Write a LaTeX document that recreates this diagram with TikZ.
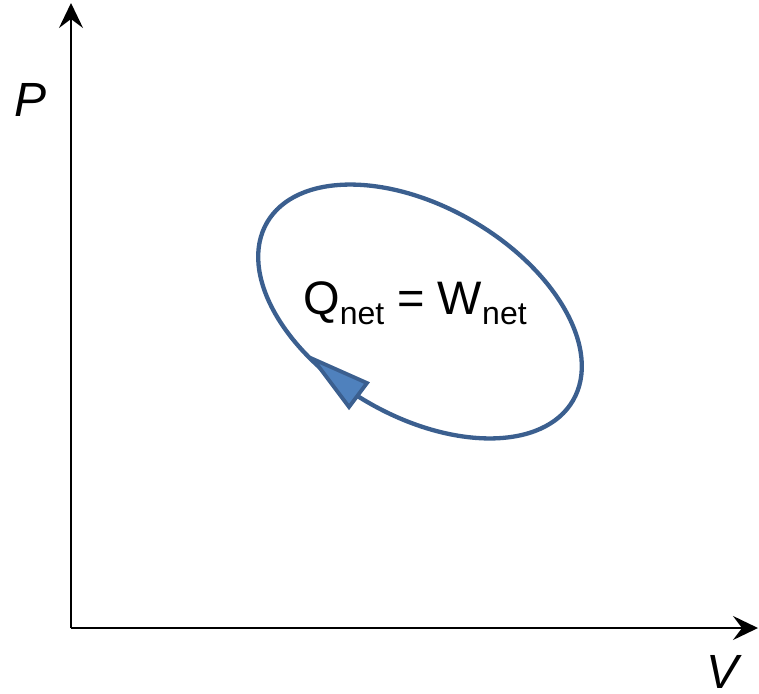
\documentclass[tikz,border=0pt]{standalone}
\usepackage{fontspec}
\setmainfont{Liberation Sans}
\usetikzlibrary{arrows.meta}
\definecolor{cycline}{HTML}{3B5F8F}
\definecolor{cycfill}{HTML}{4F81BD}
\tikzset{
  axis/.style={line width=2.3pt, -{Stealth[length=25pt,width=24pt,inset=9pt]}},
  axlabel/.style={font=\fontsize{48}{48}\selectfont\itshape, inner sep=0pt, anchor=base},
  cycle/.style={draw=cycline, line width=4.3pt},
  cyctip/.style={draw=cycline, fill=cycfill, line width=3.8pt, line join=miter}
}
\newcommand{\subtxt}[1]{{\fontsize{32}{32}\selectfont\raisebox{-10pt}{#1}}}
\begin{document}
\begin{tikzpicture}[x=1pt,y=-1pt]
\useasboundingbox (0,0) rectangle (759,693);
\coordinate (O) at (71,628);
\coordinate (Ptop) at (71,3);
\coordinate (Vend) at (758,628);
\draw[axis] (O) -- (Ptop);
\draw[axis] (O) -- (Vend);
\node[axlabel] (P) at (31,116) {P};
\node[axlabel] (V) at (722,688) {V};
\draw[cycle, rotate around={-30.2:(420,311.5)}] (420,311.5) ellipse [x radius=177, y radius=104.7];
\draw[cyctip] (313,359) -- (367,383) -- (349,407) -- cycle;
\node[font=\fontsize{47}{47}\selectfont, inner sep=0pt] (Q) at (415,303) {Q\subtxt{net} = W\subtxt{net}};
\end{tikzpicture}
\end{document}
